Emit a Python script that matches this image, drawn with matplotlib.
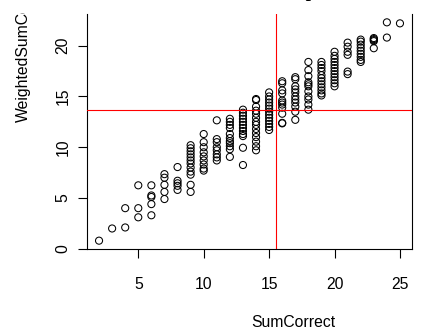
import matplotlib
matplotlib.use("Agg")
import matplotlib.pyplot as plt
from matplotlib.transforms import Bbox, TransformedBbox

plt.rcParams['font.family'] = ['Liberation Sans', 'DejaVu Sans']

# SumCorrect (x) and WeightedSumCorrect (y)
sum_correct = [
    2,
    3,
    4, 4,
    5, 5, 5,
    6, 6, 6, 6, 6,
    7, 7, 7, 7, 7,
    8, 8, 8, 8, 8,
    9, 9, 9, 9, 9, 9, 9, 9, 9, 9, 9, 9,
    10, 10, 10, 10, 10, 10, 10, 10, 10,
    11, 11, 11, 11, 11, 11, 11, 11,
    12, 12, 12, 12, 12, 12, 12, 12, 12, 12, 12,
    13, 13, 13, 13, 13, 13, 13, 13, 13, 13, 13, 13,
    14, 14, 14, 14, 14, 14, 14, 14, 14, 14, 14, 14, 14, 14,
    15, 15, 15, 15, 15, 15, 15, 15, 15, 15, 15, 15, 15,
    16, 16, 16, 16, 16, 16, 16, 16, 16, 16, 16,
    17, 17, 17, 17, 17, 17, 17, 17, 17, 17, 17,
    18, 18, 18, 18, 18, 18, 18, 18, 18, 18, 18,
    19, 19, 19, 19, 19, 19, 19, 19, 19, 19, 19, 19,
    20, 20, 20, 20, 20, 20, 20, 20, 20, 20, 20, 20,
    21, 21, 21, 21, 21, 21,
    22, 22, 22, 22, 22, 22, 22, 22, 22,
    23, 23, 23, 23, 23,
    24, 24,
    25,
]
weighted_sum_correct = [
    0.8,
    2.0,
    4.0, 2.1,
    6.25, 4.0, 3.1,
    6.25, 5.25, 5.1, 4.4, 3.3,
    7.35, 7.0, 6.3, 5.6, 4.9,
    8.05, 6.7, 6.45, 6.2, 5.8,
    10.2, 9.9, 9.6, 9.3, 9.0, 8.7, 8.4, 8.0, 7.6, 7.3, 6.3, 5.6,
    11.3, 10.5, 10.0, 9.5, 9.1, 8.7, 8.3, 7.9, 7.7,
    12.65, 10.8, 10.5, 10.0, 9.7, 9.3, 9.0, 8.7,
    12.8, 12.5, 12.2, 11.9, 11.3, 10.9, 10.6, 10.4, 10.1, 9.8, 9.05,
    13.7, 13.4, 13.1, 12.8, 12.5, 12.2, 11.9, 11.6, 11.3, 11.1, 9.95, 8.25,
    14.75, 14.65, 14.0, 13.6, 13.3, 12.9, 12.5, 12.2, 11.8, 11.4, 11.0, 10.55, 10.1, 9.7,
    15.4, 15.0, 14.7, 14.4, 14.1, 13.8, 13.5, 13.2, 12.9, 12.6, 12.3, 12.0, 11.7,
    16.5, 16.3, 15.6, 15.3, 14.6, 14.4, 14.2, 13.9, 13.3, 12.4, 12.35,
    16.9, 16.7, 16.0, 15.7, 15.4, 15.0, 14.7, 14.4, 14.0, 13.5, 12.7,
    18.4, 17.6, 17.0, 16.4, 16.2, 16.0, 15.5, 15.0, 14.7, 14.2, 13.7,
    18.4, 18.1, 17.8, 17.5, 17.1, 16.8, 16.5, 16.2, 15.9, 15.6, 15.3, 15.1,
    19.4, 19.0, 18.7, 18.4, 18.1, 17.8, 17.5, 17.2, 16.9, 16.6, 16.3, 16.0,
    20.3, 19.9, 19.4, 19.1, 17.45, 17.2,
    20.6, 20.4, 20.1, 19.8, 19.5, 19.2, 18.9, 18.6, 18.4,
    20.75, 20.65, 20.55, 20.45, 19.75,
    22.3, 20.8,
    22.2,
]

mean_x = 15.5
mean_y = 13.65

x_ticks = [5, 10, 15, 20, 25]
y_ticks = [0, 5, 10, 15, 20]

fig = plt.figure(figsize=(4.22, 3.29), dpi=100)
ax = fig.add_axes([87 / 422, 79.6 / 329, 325 / 422, 235.8 / 329])

ax.scatter(sum_correct, weighted_sum_correct, s=26, facecolors='none',
           edgecolors='black', linewidths=0.75, zorder=2)
ax.axvline(mean_x, color='red', lw=0.8, zorder=3)
ax.axhline(mean_y, color='red', lw=0.8, zorder=3)

# R-style 4% range padding
def pad(lo, hi):
    d = (hi - lo) * 0.04
    return lo - d, hi + d

ax.set_xlim(*pad(min(sum_correct), max(sum_correct)))
ax.set_ylim(*pad(min(weighted_sum_correct), max(weighted_sum_correct)))
ax.set_xticks(x_ticks)
ax.set_yticks(y_ticks)

ax.spines['top'].set_visible(False)
for s in ['left', 'right', 'bottom']:
    ax.spines[s].set_linewidth(0.8)
ax.tick_params(length=6.5, width=0.8, labelsize=11.3, color='black')
ax.tick_params(axis='x', pad=13.5)
ax.tick_params(axis='y', pad=5.5, labelrotation=90)
for lab in ax.get_yticklabels():
    lab.set_va('center')

fig.text(293.3 / 422, 2.3 / 329, 'SumCorrect', ha='center', va='baseline',
         fontsize=11.3)
ylab = fig.text(23 / 422, (329 - 122) / 329, 'WeightedSumCorrect', rotation=90,
                ha='center', va='bottom', fontsize=11.3)
ylab.set_clip_box(TransformedBbox(Bbox([[0, 0], [1, (329 - 13) / 329]]),
                                  fig.transFigure))
ylab.set_clip_on(True)

# title sits above the canvas, only the descender of the "p" shows
fig.text(247.8 / 422, 1.0 + 2.6 / 329, 'Scatterplot', ha='left', va='baseline',
         family='Liberation Serif', weight='bold', fontsize=13.8)

fig.savefig('out.png', dpi=100)
